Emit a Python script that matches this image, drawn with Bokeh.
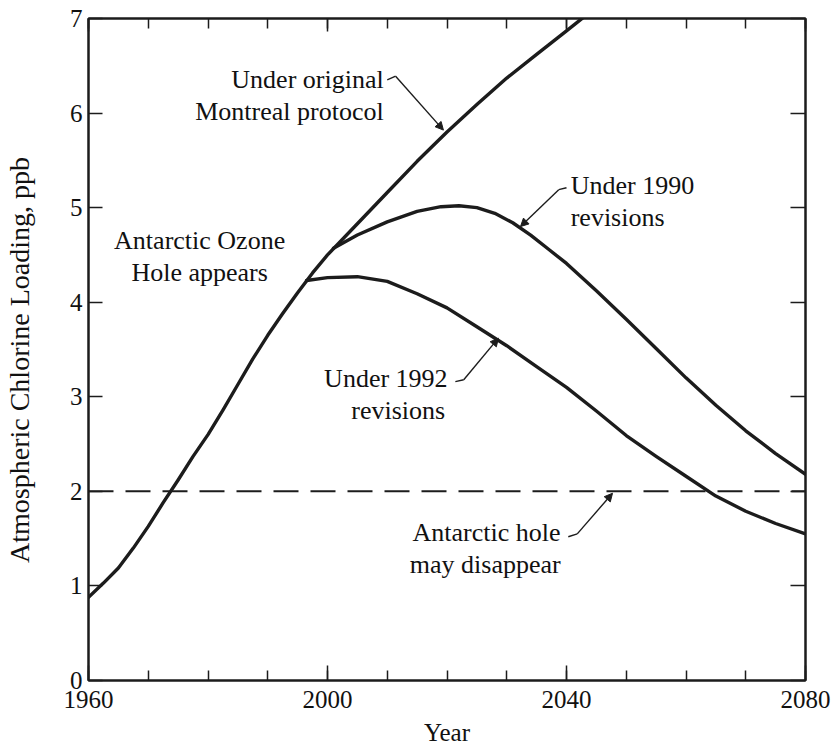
from bokeh.plotting import figure
from bokeh.models import (Range1d, LinearAxis, FixedTicker, Span, Arrow,
                          NormalHead)
from bokeh.core.properties import value
from bokeh.embed import file_html
from bokeh.resources import INLINE

# ---------------- data ----------------
years_orig = [1960, 1962.5, 1965, 1967.5, 1970, 1972.5, 1975, 1977.5, 1980,
              1982.5, 1985, 1987.5, 1990, 1992.5, 1995, 1997.5, 2000, 2005,
              2010, 2015, 2020, 2025, 2030, 2035, 2040, 2043]
cl_orig = [0.88, 1.03, 1.19, 1.40, 1.63, 1.88, 2.12, 2.37, 2.60,
           2.86, 3.13, 3.40, 3.65, 3.88, 4.10, 4.31, 4.50, 4.83,
           5.16, 5.49, 5.80, 6.09, 6.37, 6.62, 6.87, 7.02]

years_1990 = [2001, 2005, 2010, 2015, 2019, 2022, 2025, 2028, 2031, 2034,
              2037, 2040, 2045, 2050, 2055, 2060, 2065, 2070, 2075, 2080]
cl_1990 = [4.57, 4.71, 4.85, 4.96, 5.01, 5.02, 5.00, 4.94, 4.84, 4.71,
           4.56, 4.41, 4.12, 3.82, 3.51, 3.20, 2.91, 2.64, 2.40, 2.18]

years_1992 = [1996.5, 2000, 2005, 2010, 2015, 2020, 2025, 2030, 2035, 2040,
              2045, 2050, 2055, 2060, 2065, 2070, 2075, 2080]
cl_1992 = [4.23, 4.26, 4.27, 4.22, 4.09, 3.94, 3.74, 3.54, 3.32, 3.10,
           2.85, 2.59, 2.37, 2.16, 1.95, 1.79, 1.66, 1.55]

threshold = 2.0

x_major = [1960, 2000, 2040, 2080]
x_minor = [1960, 1970, 1980, 1990, 2000, 2010, 2020, 2030, 2040, 2050,
           2060, 2070, 2080]
y_ticks = [0, 1, 2, 3, 4, 5, 6, 7]

# annotation texts: (text, x, y, align)
labels = [
    ("Under original", 2009.4, 6.35, "right"),
    ("Montreal protocol", 2009.4, 6.02, "right"),
    ("Antarctic Ozone", 1978.6, 4.65, "center"),
    ("Hole appears", 1978.6, 4.31, "center"),
    ("Under 1990", 2040.7, 5.23, "left"),
    ("revisions", 2040.7, 4.90, "left"),
    ("Under 1992", 2020.1, 3.19, "right"),
    ("revisions", 2019.7, 2.85, "right"),
    ("Antarctic hole", 2026.6, 1.56, "center"),
    ("may disappear", 2026.4, 1.23, "center"),
]

# leader lines: hook start, hook end (= arrow start), arrow tip
leaders = [
    ((2010.0, 6.35), (2011.4, 6.39), (2019.4, 5.82)),
    ((2040.0, 5.21), (2038.7, 5.19), (2032.3, 4.80)),
    ((2021.4, 3.16), (2022.8, 3.18), (2028.6, 3.62)),
    ((2040.3, 1.52), (2041.8, 1.55), (2047.7, 1.98)),
]

FONT = "Liberation Serif"
INK = "#1c1c1c"
TXT = "#111111"

# ---------------- figure ----------------
p = figure(width=834, height=750,
           x_range=Range1d(1960, 2080), y_range=Range1d(0, 7),
           output_backend="svg", toolbar_location=None,
           min_border_left=88, min_border_right=29,
           min_border_top=18, min_border_bottom=70)
p.background_fill_color = "white"
p.border_fill_color = "white"
p.grid.visible = False
p.outline_line_color = INK
p.outline_line_width = 2


def style_axis(ax, labels_on):
    ax.axis_line_color = INK
    ax.axis_line_width = 2
    ax.major_tick_line_color = INK
    ax.minor_tick_line_color = INK
    ax.major_tick_line_width = 1.5
    ax.minor_tick_line_width = 1.5
    ax.major_tick_out = 0
    ax.minor_tick_out = 0
    if labels_on:
        ax.major_label_text_font = FONT
        ax.major_label_text_font_size = "25px"
        ax.major_label_text_color = TXT
        ax.axis_label_text_font = FONT
        ax.axis_label_text_font_size = "25px"
        ax.axis_label_text_font_style = "normal"
        ax.axis_label_text_color = TXT
    else:
        ax.major_label_text_font_size = "0px"
        ax.major_label_standoff = 0


# bottom
xb = p.xaxis[0]
xb.ticker = FixedTicker(ticks=x_major, minor_ticks=x_minor)
style_axis(xb, True)
xb.major_tick_in = 15
xb.minor_tick_in = 10
xb.major_label_standoff = 10
xb.axis_label = "Year"
xb.axis_label_standoff = 8

# left
yl = p.yaxis[0]
yl.ticker = FixedTicker(ticks=y_ticks)
style_axis(yl, True)
yl.major_tick_in = 14
yl.minor_tick_in = 0
yl.major_label_standoff = 6
yl.axis_label = "Atmospheric  Chlorine  Loading,  ppb"
yl.axis_label_text_font_size = "28px"
yl.axis_label_standoff = 32

# top
xt = LinearAxis(ticker=FixedTicker(ticks=x_major, minor_ticks=x_minor))
style_axis(xt, False)
xt.major_tick_in = 13
xt.minor_tick_in = 10
xt.major_label_overrides = {t: "" for t in x_major}
p.add_layout(xt, "above")

# right
yr = LinearAxis(ticker=FixedTicker(ticks=y_ticks))
style_axis(yr, False)
yr.major_tick_in = 15
yr.minor_tick_in = 0
yr.major_label_overrides = {t: "" for t in y_ticks}
p.add_layout(yr, "right")

# threshold dashed line
p.add_layout(Span(location=threshold, dimension="width", line_color=INK,
                  line_width=2, line_dash="25 12"))

# curves
for xs, ys in [(years_orig, cl_orig), (years_1990, cl_1990),
               (years_1992, cl_1992)]:
    p.line(xs, ys, line_color=INK, line_width=3.4, line_join="round",
           line_cap="round")

# texts
for txt, tx, ty, al in labels:
    p.text(x=[tx], y=[ty], text=[txt], text_align=al,
           text_baseline="alphabetic", text_font=value(FONT),
           text_font_size=value("26px"), text_color=TXT)

# leaders with arrows
for (h0, h1, tip) in leaders:
    p.line([h0[0], h1[0]], [h0[1], h1[1]], line_color=INK, line_width=1.4)
    p.add_layout(Arrow(end=NormalHead(size=8, fill_color=INK,
                                      line_color=INK, line_width=1),
                       x_start=h1[0], y_start=h1[1],
                       x_end=tip[0], y_end=tip[1],
                       line_color=INK, line_width=1.4))

open("out.html", "w").write(file_html(p, INLINE))
